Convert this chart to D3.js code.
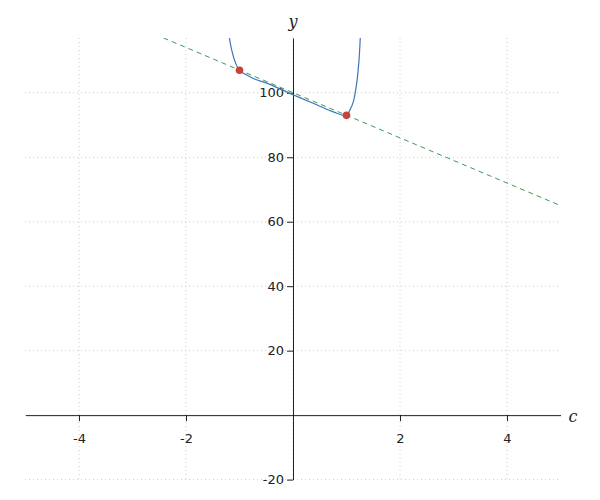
<!DOCTYPE html>
<html><head><meta charset="utf-8">
<script src="https://cdn.jsdelivr.net/npm/d3@7"></script>
<style>body{margin:0;background:#fff}svg{display:block}</style>
</head><body>
<svg id="chart" width="600" height="500"></svg>
<script>
// Data
const curveC = [-1.191, -1.146, -1.084, -1.004, -0.865, -0.710, -0.491, 0, 0.443, 0.753, 0.991, 1.065, 1.127, 1.191, 1.234, 1.258];
const curveY = [117.2, 113.3, 109.7, 107.0, 105.5, 104.2, 103.0, 99.4, 96.3, 94.1, 93.0, 94.7, 97.2, 103.0, 110.2, 117.2];
const pointC = [-1, 1];
const pointY = [107, 93];
const lineC = [-2.42, 5];
const lineY = [117, 65];
const xTicks = [-4, -2, 2, 4];
const yTicks = [-20, 20, 40, 60, 80, 100];
const xGrid = [-4, -2, 0, 2, 4];
const yGrid = [-20, 0, 20, 40, 60, 80, 100];

const svg = d3.select("#chart");
const x = d3.scaleLinear().domain([-5, 5]).range([25.5, 560.5]);
const y = d3.scaleLinear().domain([-20, 117]).range([479.6, 38]);
const fmt = d => String(d);

svg.append("defs").append("clipPath").attr("id","clip")
  .append("rect").attr("x",25).attr("y",38).attr("width",536).attr("height",442);

// grid
const g = svg.append("g");
g.selectAll("line.v").data(xGrid).join("line")
  .attr("x1", d=>x(d)).attr("x2", d=>x(d)).attr("y1", 38).attr("y2", 480)
  .attr("stroke","#ccc").attr("stroke-width",1).attr("stroke-dasharray","1,3");
g.selectAll("line.h").data(yGrid).join("line")
  .attr("y1", d=>y(d)).attr("y2", d=>y(d)).attr("x1", 25).attr("x2", 561)
  .attr("stroke","#ccc").attr("stroke-width",1).attr("stroke-dasharray","1,3");

// x axis
const xAxis = svg.append("g").attr("transform",`translate(0,${y(0)})`)
  .call(d3.axisBottom(x).tickValues(xTicks).tickFormat(fmt).tickSize(6).tickSizeOuter(0));
xAxis.select(".domain").attr("stroke","#222");
xAxis.selectAll(".tick line").attr("stroke","#222");
xAxis.selectAll(".tick text").attr("font-family","DejaVu Sans").attr("font-size",13).attr("fill","#222").attr("y",14).attr("dy","1.05em");

// y axis
const yAxis = svg.append("g").attr("transform",`translate(${x(0)},0)`)
  .call(d3.axisLeft(y).tickValues(yTicks).tickFormat(fmt).tickSize(6).tickSizeOuter(0));
yAxis.select(".domain").attr("stroke","#222");
yAxis.selectAll(".tick line").attr("stroke","#222");
yAxis.selectAll(".tick text").attr("font-family","DejaVu Sans").attr("font-size",13).attr("fill","#222");

// axis labels
svg.append("text").attr("x", 573).attr("y", 422).attr("text-anchor","middle")
  .attr("font-family","DejaVu Serif").attr("font-style","italic").attr("font-size",16).attr("fill","#222").text("c");
svg.append("text").attr("x", 293).attr("y", 27).attr("text-anchor","middle")
  .attr("font-family","DejaVu Serif").attr("font-style","italic").attr("font-size",16).attr("fill","#222").text("y");

const plot = svg.append("g").attr("clip-path","url(#clip)");
// dashed secant line
plot.append("path").datum(lineC.map((c,i)=>[c,lineY[i]]))
  .attr("d", d3.line().x(d=>x(d[0])).y(d=>y(d[1])))
  .attr("fill","none").attr("stroke","#3d9a5a").attr("stroke-width",1).attr("stroke-dasharray","5,4");
// curve
plot.append("path").datum(curveC.map((c,i)=>[c,curveY[i]]))
  .attr("d", d3.line().x(d=>x(d[0])).y(d=>y(d[1])).curve(d3.curveCatmullRom))
  .attr("fill","none").attr("stroke","#3a78b8").attr("stroke-width",1.2);
// points
svg.selectAll("circle.p").data(pointC.map((c,i)=>[c,pointY[i]])).join("circle")
  .attr("cx", d=>x(d[0])).attr("cy", d=>y(d[1])).attr("r",3.8).attr("fill","#c9413a");
</script>
</body></html>
